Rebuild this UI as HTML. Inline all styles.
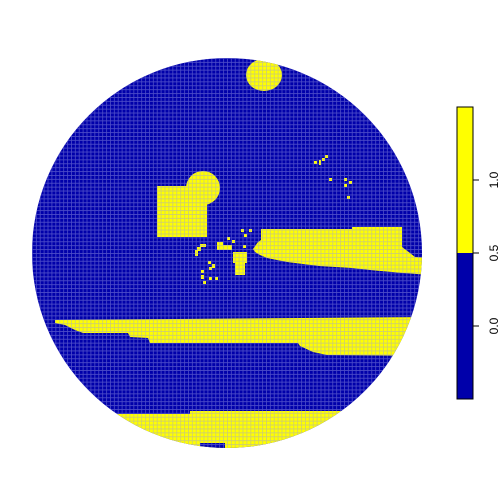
<!DOCTYPE html>
<html><head><meta charset="utf-8"><style>
html,body{margin:0;padding:0;background:#fff;}
svg{display:block;font-family:"Liberation Sans",sans-serif;}
</style></head><body>
<svg width="504" height="504" viewBox="0 0 504 504">
<defs>
<clipPath id="disk"><circle cx="227" cy="253" r="195"/></clipPath>
<pattern id="grid" x="32" y="58" width="3.9" height="3.9" patternUnits="userSpaceOnUse">
<path d="M0 0.4H3.9M0.4 0V3.9" stroke="#9a9ae6" stroke-width="0.8" fill="none" opacity="0.5"/>
</pattern>
</defs>
<g clip-path="url(#disk)">
<rect x="30" y="56" width="396" height="396" fill="#0000aa"/>
<g fill="#ffff00">
<ellipse cx="264" cy="75" rx="18" ry="16"/>
<rect x="157" y="186" width="50" height="51"/>
<circle cx="203" cy="188" r="17"/>
<polygon points="261,229 352,229 352,227 402,227 402,247 410,253 415,257 430,258 430,275 403,273 370,270 352,268 319,266 303,264 287,262 267,258 260,255 255,252 253,249 258,242 261,240"/>
<polygon points="55,320 430,317 430,356 327,355 313,352 300,346 298,343 150,343 148,338 130,337 128,333 83,333 75,330 65,325 55,323"/>
<polygon points="100,414 190,414 190,411 430,411 430,460 100,460"/>
<rect x="200" y="244" width="6" height="3"/><rect x="197" y="247" width="4" height="4"/><rect x="195" y="250" width="3" height="6"/>
<rect x="217" y="242" width="6" height="4"/><rect x="217" y="245" width="15" height="5"/>
<rect x="233" y="252" width="14" height="11"/><rect x="235" y="263" width="10" height="12"/>
<rect x="244" y="234" width="3" height="3"/><rect x="232" y="240" width="3" height="3"/><rect x="227" y="237" width="3" height="3"/><rect x="243" y="245" width="3" height="3"/><rect x="249" y="229" width="3" height="3"/>
<rect x="208" y="261" width="3" height="3"/><rect x="212" y="264" width="3" height="4"/><rect x="209" y="267" width="3" height="3"/><rect x="201" y="270" width="3" height="3"/><rect x="201" y="275" width="3" height="4"/><rect x="203" y="281" width="3" height="3"/><rect x="209" y="277" width="3" height="3"/><rect x="215" y="277" width="3" height="3"/>
<rect x="314" y="161" width="3" height="3"/><rect x="319" y="160" width="2" height="5"/><rect x="322" y="158" width="3" height="3"/><rect x="325" y="155" width="3" height="3"/>
<rect x="329" y="178" width="3" height="3"/><rect x="344" y="178" width="3" height="3"/><rect x="349" y="181" width="3" height="3"/><rect x="344" y="184" width="3" height="3"/><rect x="347" y="196" width="3" height="3"/>
<rect x="241" y="229" width="3" height="3"/>
</g>
<rect x="200" y="443" width="25" height="6" fill="#0000aa"/>
<rect x="30" y="56" width="396" height="396" fill="url(#grid)"/>
</g>
<g>
<rect x="457" y="107" width="16" height="146" fill="#ffff00"/>
<rect x="457" y="253" width="16" height="146" fill="#0000aa"/>
<rect x="457" y="107" width="16" height="292" fill="none" stroke="#000" stroke-width="1"/>
<g stroke="#000" stroke-width="1">
<line x1="473" y1="180" x2="479" y2="180"/><line x1="473" y1="253" x2="479" y2="253"/><line x1="473" y1="326" x2="479" y2="326"/>
</g>
<g font-size="12" fill="#000" text-anchor="middle">
<text transform="translate(498,180) rotate(-90)">1.0</text>
<text transform="translate(498,253) rotate(-90)">0.5</text>
<text transform="translate(498,326) rotate(-90)">0.0</text>
</g>
</g>
</svg>
</body></html>
